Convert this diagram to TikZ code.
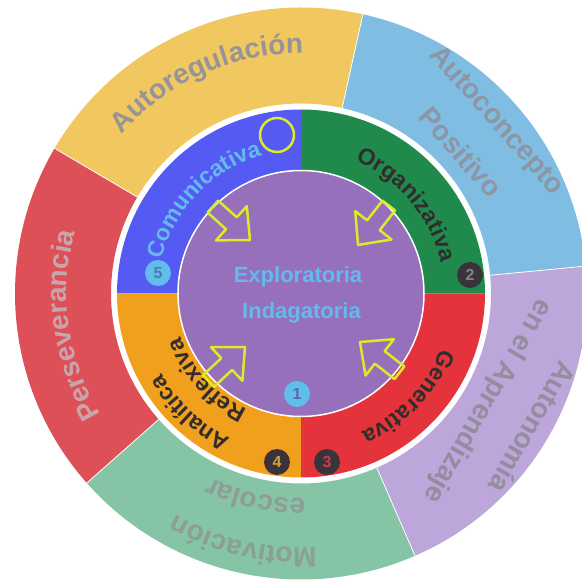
\documentclass[tikz,border=0pt]{standalone}
\usepackage{fontspec}
\setmainfont{Liberation Sans}
\usetikzlibrary{decorations.text}
\definecolor{oyellow}{RGB}{241,199,96}
\definecolor{oblue}{RGB}{127,190,226}
\definecolor{olilac}{RGB}{189,166,218}
\definecolor{ogreen}{RGB}{134,196,166}
\definecolor{ored}{RGB}{221,80,87}
\definecolor{iblue}{RGB}{84,90,242}
\definecolor{igreen}{RGB}{31,138,76}
\definecolor{ired}{RGB}{228,51,58}
\definecolor{iorange}{RGB}{240,160,28}
\definecolor{purp}{RGB}{150,112,186}
\definecolor{ygreen}{RGB}{218,236,40}
\definecolor{ctext}{RGB}{100,185,238}
\definecolor{tyellow}{RGB}{150,148,150}
\definecolor{tblue}{RGB}{140,150,165}
\definecolor{tlilac}{RGB}{150,140,160}
\definecolor{tgreen}{RGB}{140,158,150}
\definecolor{tred}{RGB}{200,165,170}
\definecolor{tdark}{RGB}{50,45,45}
\definecolor{lbadge}{RGB}{95,190,235}
\definecolor{dbadge}{RGB}{58,52,58}
\newcommand{\annseg}[5]{\fill[#5] (#1:#3) arc[start angle=#1, end angle=#2, radius=#3] -- (#2:#4) arc[start angle=#2, end angle=#1, radius=#4] -- cycle;}
\newcommand{\arctext}[6]{\path[decorate, decoration={text along path, text align=center, text color=#4, text={|\fontsize{#6}{#6}\selectfont\bfseries|#5}}] ({#1+#3}:#2) arc[start angle={#1+#3}, end angle={#1-#3}, radius=#2];}
\tikzset{
  badge/.style={circle, minimum size=26pt, inner sep=0pt, font=\fontsize{16}{16}\selectfont\bfseries},
  centertext/.style={font=\fontsize{22}{24}\selectfont\bfseries, text=ctext, inner sep=0pt},
  outerlabel/.style={font=\fontsize{28}{50}\selectfont\bfseries, align=center, inner sep=0pt},
  harrow/.pic={\draw[ygreen, line width=2.5pt, line join=round] (-50pt,-8pt) -- (-25pt,-8pt) -- (-25pt,-23pt) -- (0pt,0pt) -- (-25pt,23pt) -- (-25pt,8pt) -- (-50pt,8pt) -- cycle;}
}
\begin{document}
\begin{tikzpicture}
\useasboundingbox (-301pt,-289.5pt) rectangle (280pt,293.5pt);
% outer ring
\annseg{5.5}{77.5}{286pt}{190pt}{oblue}
\annseg{77.5}{149.5}{286pt}{190pt}{oyellow}
\annseg{149.5}{221.5}{286pt}{190pt}{ored}
\annseg{221.5}{293.5}{286pt}{190pt}{ogreen}
\annseg{293.5}{365.5}{286pt}{190pt}{olilac}
\foreach \a in {5.5,77.5,149.5,221.5,293.5}{\draw[white, line width=0.8pt] (\a:190pt) -- (\a:286pt);}
% inner ring
\fill[igreen] (0pt,0pt) -- (0:184pt) arc[start angle=0, end angle=90, radius=184pt] -- cycle;
\fill[iblue] (0pt,0pt) -- (90:184pt) arc[start angle=90, end angle=180, radius=184pt] -- cycle;
\fill[iorange] (0pt,0pt) -- (180:184pt) arc[start angle=180, end angle=270, radius=184pt] -- cycle;
\fill[ired] (0pt,0pt) -- (270:184pt) arc[start angle=270, end angle=360, radius=184pt] -- cycle;
% center
\fill[purp] (0pt,0pt) circle[radius=123pt];
\draw[white, line width=1.5pt] (0pt,0pt) circle[radius=123pt];
% outer labels
\arctext{114}{240pt}{60}{tyellow}{Autoregulación}{28}
\arctext{188}{234pt}{60}{tred}{Perseverancia}{28}
\node[outerlabel, text=tblue, rotate=-48.5] (auc) at (41.5:238pt) {Autoconcepto\\Positivo};
\node[outerlabel, text=tlilac, rotate=-120] (aut) at (-30:240pt) {Autonomía\\en el Aprendizaje};
\arctext{-103}{254pt}{60}{tgreen}{Motivación}{28}
\arctext{-102.5}{205pt}{60}{tgreen}{escolar}{28}
% inner labels
\arctext{136}{143pt}{70}{ctext}{Comunicativa}{23}
\arctext{40}{143pt}{70}{tdark}{Organizativa}{23}
\arctext{-44}{151pt}{70}{tdark}{Generativa}{23}
\arctext{-133}{161pt}{60}{tdark}{Analítica}{23}
\arctext{-137.5}{128pt}{70}{tdark}{Reflexiva}{23}
% center text
\node[centertext] (ex) at (-3pt,16.5pt) {Exploratoria};
\node[centertext] (ind) at (0.5pt,-19.5pt) {Indagatoria};
% badges
\node[badge, fill=lbadge, text={rgb,255:red,90;green,105;blue,170}] (b1) at (-4pt,-100.5pt) {1};
\node[badge, fill=dbadge, text={rgb,255:red,135;green,130;blue,135}] (b2) at (169pt,18.5pt) {2};
\node[badge, fill=dbadge, text={rgb,255:red,200;green,60;blue,75}] (b3) at (26pt,-168.5pt) {3};
\node[badge, fill=dbadge, text={rgb,255:red,205;green,165;blue,60}] (b4) at (-24pt,-168.5pt) {4};
\node[badge, fill=lbadge, text={rgb,255:red,85;green,120;blue,165}] (b5) at (-143pt,20.5pt) {5};
% hollow ring
\node[circle, draw=ygreen, line width=2.5pt, minimum size=34pt, inner sep=0pt] (ring) at (-24pt,158.5pt) {};
% arrows
\pic[rotate=-42] (a1) at (-51pt,53.5pt) {harrow};
\pic[rotate=232] (a2) at (57pt,48.5pt) {harrow};
\pic[rotate=142] (a3) at (59pt,-48.5pt) {harrow};
\pic[rotate=43] (a4) at (-56pt,-53.5pt) {harrow};
\end{tikzpicture}
\end{document}
